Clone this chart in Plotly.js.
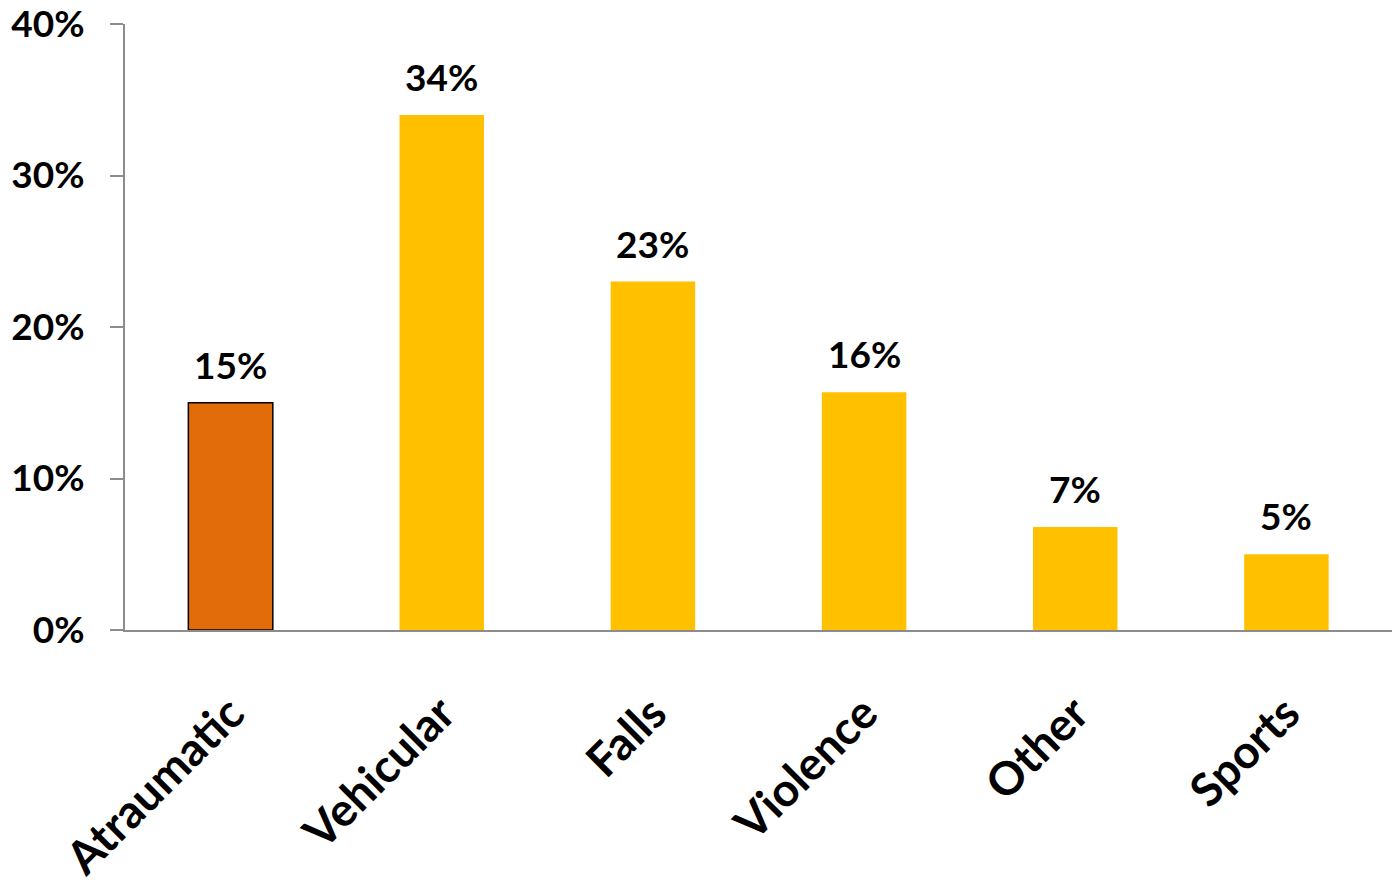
<!DOCTYPE html>
<html>
<head>
<meta charset="utf-8">
<script src="https://cdn.plot.ly/plotly-3.0.1.min.js"></script>
<style>
html,body{margin:0;padding:0;background:#fff;}
#chart{width:1396px;height:890px;}
</style>
</head>
<body>
<div id="chart"></div>
<script>
const categories = ["Atraumatic", "Vehicular", "Falls", "Violence", "Other", "Sports"];
const values = [15, 34, 23, 15.7, 6.8, 5];
const valueLabels = ["15%", "34%", "23%", "16%", "7%", "5%"];
const barColors = ["#E36C0A", "#FFC000", "#FFC000", "#FFC000", "#FFC000", "#FFC000"];
const outlineColors = ["#000000", "rgba(0,0,0,0)", "rgba(0,0,0,0)", "rgba(0,0,0,0)", "rgba(0,0,0,0)", "rgba(0,0,0,0)"];
const outlineWidths = [1.5, 0, 0, 0, 0, 0];
const yTickValues = [0, 10, 20, 30, 40];

const FONT = "Lato, 'Open Sans', sans-serif";

const trace = {
  type: "bar",
  x: categories,
  y: values,
  marker: {color: barColors, line: {color: outlineColors, width: outlineWidths}},
  hoverinfo: "skip"
};

const annotations = categories.map((c, i) => ({
  x: c, y: values[i], text: "<b>" + valueLabels[i] + "</b>",
  xref: "x", yref: "y", showarrow: false, yanchor: "bottom", yshift: 14,
  font: {family: FONT, size: 37, color: "#000"}
}));

const layout = {
  width: 1396, height: 890,
  margin: {l: 125, r: 4, t: 24, b: 260, pad: 0},
  paper_bgcolor: "#fff", plot_bgcolor: "#fff",
  showlegend: false,
  bargap: 0.6,
  font: {family: FONT, color: "#000"},
  xaxis: {
    type: "category",
    showgrid: false, zeroline: false,
    showline: true, linecolor: "#8c8c8c", linewidth: 2,
    ticks: "", tickangle: -45,
    tickfont: {family: FONT, size: 46, color: "#000", weight: "bold"},
    ticklabelstandoff: 36
  },
  yaxis: {
    range: [0, 40],
    tickvals: yTickValues, ticktext: yTickValues.map(v => v + "%"),
    showgrid: false, zeroline: false,
    showline: true, linecolor: "#8c8c8c", linewidth: 2,
    ticks: "outside", ticklen: 13, tickwidth: 2, tickcolor: "#8c8c8c",
    tickfont: {family: FONT, size: 37, color: "#000", weight: "bold"},
    ticklabelstandoff: 18,
    ticklabeloverflow: "allow"
  },
  annotations: annotations
};

Plotly.newPlot("chart", [trace], layout, {displayModeBar: false, staticPlot: true});
</script>
</body>
</html>
